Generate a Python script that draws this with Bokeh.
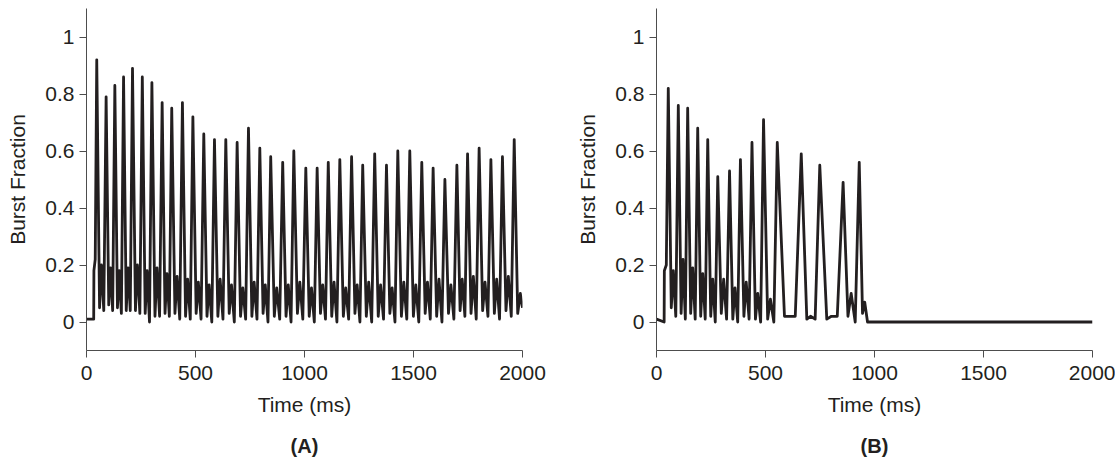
from bokeh.plotting import figure
from bokeh.layouts import row
from bokeh.models import Range1d, FixedTicker, LinearAxis, CustomJSTickFormatter
from bokeh.embed import file_html
from bokeh.resources import INLINE

# ---------------- data ----------------
x_ticks = [0, 500, 1000, 1500, 2000]
y_ticks = [0, 0.2, 0.4, 0.6, 0.8, 1]

# Panel A
A_start_t = [0, 33, 34, 40]
A_start_v = [0.01, 0.01, 0.18, 0.22]
A_peak_t = [47, 90, 130, 170, 211, 256, 300, 347, 391, 440,
            488, 538, 587, 639, 691, 743, 795, 845, 900, 951,
            1006, 1058, 1109, 1162, 1216, 1267, 1322, 1376, 1428, 1483,
            1538, 1590, 1644, 1699, 1748, 1801, 1855, 1908, 1962]
A_peak_v = [0.92, 0.79, 0.83, 0.86, 0.89, 0.86, 0.84, 0.77, 0.75, 0.77,
            0.72, 0.66, 0.64, 0.64, 0.63, 0.68, 0.61, 0.58, 0.56, 0.60,
            0.54, 0.54, 0.56, 0.57, 0.58, 0.55, 0.59, 0.55, 0.60, 0.60,
            0.56, 0.54, 0.50, 0.55, 0.59, 0.61, 0.57, 0.58, 0.64]
A_trough1 = [0.05, 0.06, 0.05, 0.04, 0.04, 0.03, 0.02, 0.03, 0.03, 0.02,
             0.03, 0.02, 0.02, 0.03, 0.02, 0.02, 0.03, 0.02, 0.02, 0.03,
             0.02, 0.03, 0.02, 0.02, 0.03, 0.02, 0.02, 0.03, 0.02, 0.02,
             0.03, 0.02, 0.03, 0.04, 0.03, 0.04, 0.03, 0.04]
A_bump = [0.20, 0.19, 0.18, 0.19, 0.20, 0.18, 0.19, 0.17, 0.16, 0.15,
          0.14, 0.13, 0.15, 0.13, 0.12, 0.14, 0.13, 0.12, 0.13, 0.14,
          0.12, 0.13, 0.14, 0.12, 0.13, 0.14, 0.13, 0.12, 0.14, 0.13,
          0.14, 0.15, 0.13, 0.15, 0.16, 0.14, 0.15, 0.16]
A_trough2 = [0.04, 0.04, 0.03, 0.04, 0.03, 0.00, 0.02, 0.02, 0.01, 0.01,
             0.01, 0.00, 0.01, 0.00, 0.01, 0.01, 0.00, 0.01, 0.00, 0.01,
             0.00, 0.01, 0.00, 0.01, 0.00, 0.00, 0.01, 0.00, 0.01, 0.00,
             0.01, 0.00, 0.01, 0.02, 0.01, 0.02, 0.01, 0.02]
A_tail_t = [1978, 1990, 2000]
A_tail_v = [0.03, 0.10, 0.05]

# Panel B
B_start_t = [0, 35, 36, 45]
B_start_v = [0.01, 0.00, 0.18, 0.20]
B_peak_t = [54, 100, 143, 189, 235, 281, 335, 385, 438, 491, 554, 664, 749, 856, 930]
B_peak_v = [0.82, 0.76, 0.75, 0.68, 0.64, 0.51, 0.53, 0.57, 0.63, 0.71, 0.63, 0.59, 0.55, 0.49, 0.56]
B_trough1 = [0.05, 0.03, 0.03, 0.02, 0.02, 0.03, 0.01, 0.02, 0.01, 0.01, 0.02, 0.01, 0.01, 0.02]
B_bump = [0.18, 0.22, 0.19, 0.17, 0.15, 0.15, 0.12, 0.14, 0.10, 0.08, 0.02, 0.02, 0.02, 0.10]
B_trough2 = [0.02, 0.01, 0.01, 0.01, 0.00, 0.01, 0.00, 0.01, 0.00, 0.00, 0.02, 0.01, 0.02, 0.00]
B_tail_t = [945, 955, 968, 2000]
B_tail_v = [0.03, 0.07, 0.00, 0.00]

INK = "#231f20"
AXIS = "#4d4d4d"
FONT = "Liberation Sans"


def build(start_t, start_v, pk_t, pk_v, tr1, bump, tr2, tail_t, tail_v):
    xs, ys = list(start_t), list(start_v)
    for i in range(len(pk_t)):
        xs.append(pk_t[i])
        ys.append(pk_v[i])
        if i < len(pk_t) - 1:
            d = pk_t[i + 1] - pk_t[i]
            xs += [pk_t[i] + 0.3 * d, pk_t[i] + 0.5 * d, pk_t[i] + 0.75 * d]
            ys += [tr1[i], bump[i], tr2[i]]
    xs += list(tail_t)
    ys += list(tail_v)
    return xs, ys


def make_fig(width, bl, br, xs, ys, tag):
    p = figure(width=width, height=461,
               x_range=Range1d(0, 2000), y_range=Range1d(-0.1, 1.1),
               output_backend="svg", toolbar_location=None,
               min_border_left=bl, min_border_right=br,
               min_border_top=8, min_border_bottom=111)
    p.outline_line_color = None
    p.grid.visible = False
    p.background_fill_color = "white"
    p.border_fill_color = "white"
    p.line(xs, ys, color=INK, line_width=2.8, line_join="round")

    for ax in (p.xaxis[0], p.yaxis[0]):
        ax.axis_line_color = AXIS
        ax.major_tick_line_color = AXIS
        ax.major_tick_in = 0
        ax.major_tick_out = 7
        ax.minor_tick_line_color = None
        ax.major_label_text_font = FONT
        ax.major_label_text_font_size = "21px"
        ax.major_label_text_color = INK
        ax.axis_label_text_font = FONT
        ax.axis_label_text_font_size = "21px"
        ax.axis_label_text_font_style = "normal"
        ax.axis_label_text_color = INK

    p.xaxis.ticker = FixedTicker(ticks=x_ticks)
    p.yaxis.ticker = FixedTicker(ticks=y_ticks)
    p.yaxis.formatter = CustomJSTickFormatter(code="return String(Math.round(tick*10)/10)")
    p.xaxis.axis_label = "Time (ms)"
    p.yaxis.axis_label = "Burst Fraction"
    p.xaxis.major_label_standoff = 8
    p.yaxis.major_label_standoff = 5
    p.xaxis.axis_label_standoff = 10
    p.yaxis.axis_label_standoff = 13

    # panel tag "(A)" / "(B)" as the label of a bare extra axis below
    tag_axis = LinearAxis(ticker=FixedTicker(ticks=[]), axis_line_color=None,
                          major_tick_line_color=None, minor_tick_line_color=None,
                          major_tick_out=0, major_tick_in=0,
                          major_label_standoff=0,
                          axis_label=tag, axis_label_standoff=16,
                          axis_label_text_font=FONT,
                          axis_label_text_font_size="20px",
                          axis_label_text_font_style="bold",
                          axis_label_text_color=INK)
    p.add_layout(tag_axis, "below")
    return p


ax_, ay_ = build(A_start_t, A_start_v, A_peak_t, A_peak_v, A_trough1, A_bump, A_trough2, A_tail_t, A_tail_v)
bx_, by_ = build(B_start_t, B_start_v, B_peak_t, B_peak_v, B_trough1, B_bump, B_trough2, B_tail_t, B_tail_v)

pA = make_fig(568, 86, 46, ax_, ay_, "(A)")
pB = make_fig(547, 88, 23, bx_, by_, "(B)")

layout = row(pA, pB)
open("out.html", "w").write(file_html(layout, INLINE))
